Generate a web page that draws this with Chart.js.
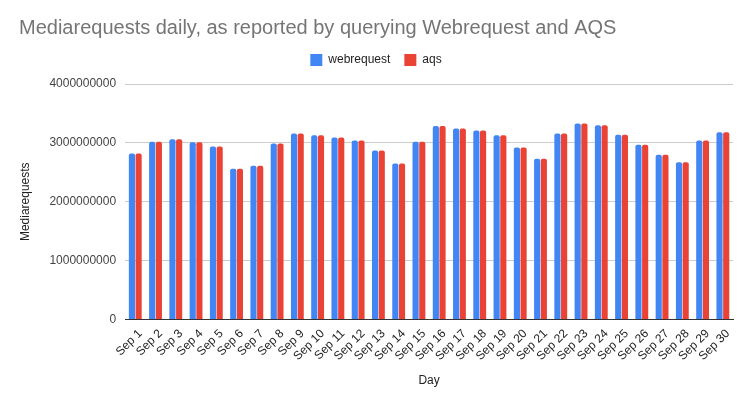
<!DOCTYPE html>
<html>
<head>
<meta charset="utf-8">
<script src="https://cdn.jsdelivr.net/npm/chart.js@4"></script>
<style>
  html, body { margin: 0; padding: 0; background: #fff; }
  #wrap { width: 753px; height: 406px; }
</style>
</head>
<body>
<div id="wrap"><canvas id="chart"></canvas></div>
<script>
const days = ['Sep 1','Sep 2','Sep 3','Sep 4','Sep 5','Sep 6','Sep 7','Sep 8','Sep 9','Sep 10',
  'Sep 11','Sep 12','Sep 13','Sep 14','Sep 15','Sep 16','Sep 17','Sep 18','Sep 19','Sep 20',
  'Sep 21','Sep 22','Sep 23','Sep 24','Sep 25','Sep 26','Sep 27','Sep 28','Sep 29','Sep 30'];

// valeurs (milliards)
const webrequest = [2.82, 3.02, 3.06, 3.01, 2.94, 2.56, 2.61, 2.99, 3.16, 3.13,
  3.09, 3.04, 2.87, 2.65, 3.02, 3.285, 3.245, 3.21, 3.13, 2.92,
  2.73, 3.16, 3.33, 3.30, 3.14, 2.97, 2.80, 2.67, 3.04, 3.18].map(v => v * 1e9);
const aqs = [2.82, 3.02, 3.06, 3.01, 2.94, 2.56, 2.61, 2.99, 3.16, 3.13,
  3.09, 3.04, 2.87, 2.65, 3.02, 3.285, 3.245, 3.21, 3.13, 2.92,
  2.73, 3.16, 3.33, 3.30, 3.14, 2.97, 2.80, 2.67, 3.04, 3.18].map(v => v * 1e9);

const yTicks = [0, 1000000000, 2000000000, 3000000000, 4000000000];

const FONT = "'Liberation Sans', Arial, sans-serif";

// un peu d'espace sous la légende
const legendGap = {
  id: 'legendGap',
  beforeInit(chart) {
    const fit = chart.legend.fit;
    chart.legend.fit = function () { fit.bind(chart.legend)(); this.height += 8; };
  }
};

new Chart(document.getElementById('chart'), {
  type: 'bar',
  data: {
    labels: days,
    datasets: [
      { label: 'webrequest', data: webrequest, backgroundColor: '#4285f4', borderRadius: { topLeft: 2, topRight: 2 }, borderSkipped: 'bottom' },
      { label: 'aqs', data: aqs, backgroundColor: '#ea4335', borderRadius: { topLeft: 2, topRight: 2 }, borderSkipped: 'bottom' }
    ]
  },
  plugins: [legendGap],
  options: {
    responsive: true, maintainAspectRatio: false, animation: false,
    layout: { padding: { left: 19, right: 20, top: 12, bottom: 14 } },
    datasets: { bar: { categoryPercentage: 0.66, barPercentage: 0.92 } },
    plugins: {
      title: {
        display: true, text: 'Mediarequests daily, as reported by querying Webrequest and AQS',
        align: 'start', color: '#757575', font: { family: FONT, size: 20, weight: 'normal' },
        padding: { top: 4, bottom: 0 }
      },
      legend: {
        position: 'top',
        labels: { color: '#222', font: { family: FONT, size: 12 }, boxWidth: 12, boxHeight: 12, padding: 14 }
      },
      tooltip: { enabled: false }
    },
    scales: {
      x: {
        grid: { display: false, drawTicks: false },
        border: { color: '#333', width: 1 },
        ticks: { color: '#222', font: { family: FONT, size: 12 }, minRotation: 45, maxRotation: 45, autoSkip: false, padding: 7, labelOffset: 5 },
        title: { display: true, text: 'Day', color: '#222', font: { family: FONT, size: 12 }, padding: { top: 3 } }
      },
      y: {
        min: 0, max: 4000000000,
        afterBuildTicks: axis => { axis.ticks = yTicks.map(v => ({ value: v })); },
        grid: { color: '#cccccc', drawTicks: false },
        border: { display: false },
        ticks: { color: '#444', font: { family: FONT, size: 12 }, padding: 9, callback: v => String(v) },
        title: { display: true, text: 'Mediarequests', color: '#222', font: { family: FONT, size: 12 }, padding: { top: -1, bottom: 8 } }
      }
    }
  }
});
</script>
</body>
</html>
